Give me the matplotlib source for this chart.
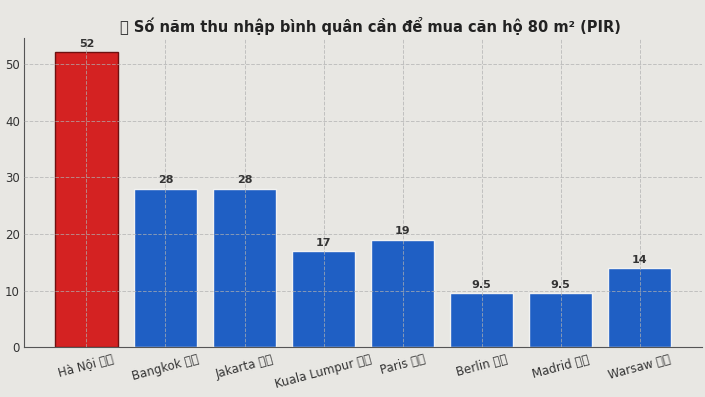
import matplotlib
matplotlib.use('Agg')
from matplotlib import pyplot as plt

# PIR: so nam thu nhap can de mua can ho 80 m2
cities = ['Hà Nội 🇻🇳', 'Bangkok 🇹🇭', 'Jakarta 🇮🇩', 'Kuala Lumpur 🇲🇾',
          'Paris 🇫🇷', 'Berlin 🇩🇪', 'Madrid 🇪🇸', 'Warsaw 🇵🇱']
pir = [52, 28, 28, 17, 19, 9.5, 9.5, 14]
value_labels = ['52', '28', '28', '17', '19', '9.5', '9.5', '14']

bg = '#e8e7e3'
colors = ['#d42222'] + ['#1f5fc4'] * (len(cities) - 1)
edges = ['#6e1010'] + ['#f2f2f2'] * (len(cities) - 1)

fig = plt.figure(figsize=(7.05, 3.97), dpi=100, facecolor=bg)
ax = fig.add_axes([0.034, 0.125, 0.962, 0.78], facecolor=bg)

x = list(range(len(cities)))
bars = ax.bar(x, pir, width=0.8, color=colors, edgecolor=edges, linewidth=1.0, zorder=2)

for b, lab in zip(bars, value_labels):
    ax.text(b.get_x() + b.get_width() / 2, b.get_height() + 0.6, lab,
            ha='center', va='bottom', fontsize=8, fontweight='bold', color='#333333')

ax.set_xticks(x)
ax.set_xticklabels(cities, rotation=15, ha='center', fontsize=8.5, color='#333333')
ax.set_yticks([0, 10, 20, 30, 40, 50])
ax.tick_params(axis='y', labelsize=8.5, colors='#333333', length=0, pad=3)
ax.tick_params(axis='x', length=0, pad=4)
ax.grid(True, linestyle='--', linewidth=0.7, color='#b0b0b0', alpha=0.7, zorder=3)
ax.set_axisbelow(False)

ax.spines['top'].set_visible(False)
ax.spines['right'].set_visible(False)
ax.spines['left'].set_color('#555555')
ax.spines['bottom'].set_color('#555555')

fig.text(0.525, 0.935, '🏠 Số năm thu nhập bình quân cần để mua căn hộ 80 m² (PIR)',
         ha='center', va='center', fontsize=10.5, fontweight='bold', color='#222222')

fig.savefig('out.png', dpi=100, facecolor=bg)
